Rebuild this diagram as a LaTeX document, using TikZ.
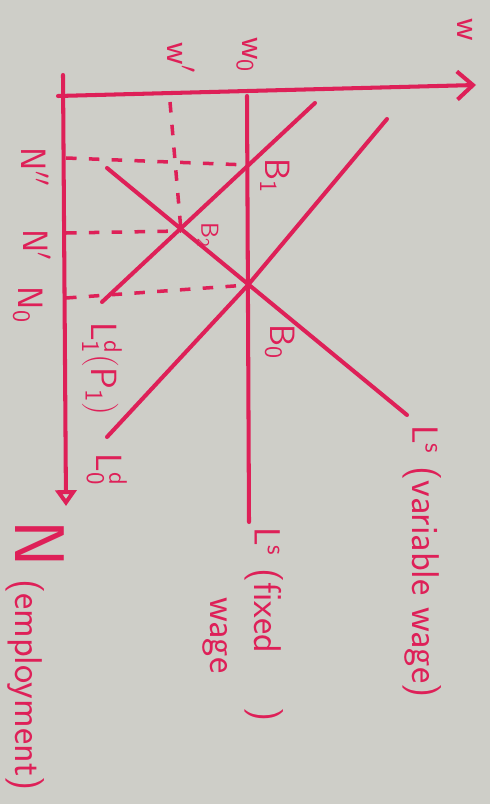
\documentclass[tikz,border=0pt]{standalone}
\usetikzlibrary{arrows.meta}
\definecolor{ink}{RGB}{222,32,88}
\definecolor{paper}{RGB}{206,206,200}

\begin{document}
\begin{tikzpicture}[x=0.02cm,y=-0.02cm,
  pen/.style={ink,line width=2.3pt,line cap=round},
  guide/.style={ink,line width=2pt,dash pattern=on 6pt off 7pt},
  lbl/.style={ink,rotate=-90,inner sep=0pt,font=\sffamily\fontsize{20}{22}\selectfont},
  longlbl/.style={lbl,font=\sffamily\fontsize{22}{25}\selectfont}]
\fill[paper] (0,0) rectangle (490,804);
\useasboundingbox (0,0) rectangle (490,804);
% points
\coordinate (Hl) at (58,96); \coordinate (Hr) at (476,85);
\coordinate (Vt) at (63,75); \coordinate (Vb) at (66,506);
\coordinate (Ft) at (247,96); \coordinate (Fb) at (249,522);
\coordinate (B1) at (248,165); \coordinate (B2) at (181,231); \coordinate (B0) at (248,285);
\coordinate (D1t) at (315,103); \coordinate (D1b) at (102,302);
\coordinate (D0t) at (387,119); \coordinate (D0b) at (107,437);
\coordinate (St) at (107,168); \coordinate (Sb) at (407,415);
\coordinate (W1) at (170,102);
\coordinate (N2) at (66,158); \coordinate (N1) at (66,233); \coordinate (N0) at (66,298);
% axes
\draw[pen,-{Straight Barb[length=9pt,width=16pt]}] (Hl) -- (Hr);
\draw[pen,-{Triangle[open,length=9pt,width=12pt]}] (Vt) -- (Vb);
% curves
\draw[pen] (Ft) -- (Fb);
\draw[pen] (D1t) -- (D1b);
\draw[pen] (D0t) -- (B0) -- (D0b);
\draw[pen] (St) -- (Sb);
% guides
\draw[guide] (W1) -- (B2);
\draw[guide] (N2) -- (B1);
\draw[guide] (N1) -- (B2);
\draw[guide] (N0) -- (B0);
% labels
\node[lbl] (lw) at (465,30) {w};
\node[lbl] (lw0) at (247,55) {w\textsubscript{0}};
\node[lbl] (lw1) at (181,58) {w$'$};
\node[lbl] (lN2) at (35,167) {N$''$};
\node[lbl] (lN1) at (37,245) {N$'$};
\node[lbl] (lN0) at (28,305) {N\textsubscript{0}};
\node[lbl] (lB1) at (275,176) {B\textsubscript{1}};
\node[lbl,font=\sffamily\fontsize{14}{16}\selectfont] (lB2) at (208,235) {B\textsubscript{2}};
\node[lbl] (lB0) at (280,342) {B\textsubscript{0}};
\node[lbl,anchor=west] (lD1) at (102,322) {$\mathsf{L^d_1(P_1)}$};
\node[lbl] (lD0) at (107,470) {$\mathsf{L^d_0}$};
\node[longlbl,anchor=west] (lSv) at (422,425) {$\mathsf{L^s}$ (variable wage)};
\node[longlbl,anchor=north west,align=left] (lSf) at (284,527) {$\mathsf{L^s}$ (fixed\hspace{1.4em})\\\hspace*{40pt}wage};
\node[longlbl,anchor=base west] (lN) at (15,520) {{\fontsize{40}{40}\selectfont N} (employment)};
\end{tikzpicture}
\end{document}
